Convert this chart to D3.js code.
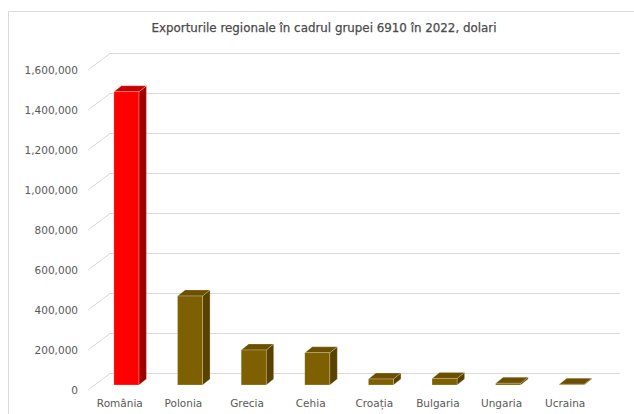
<!DOCTYPE html>
<html>
<head>
<meta charset="utf-8">
<script src="https://cdn.jsdelivr.net/npm/d3@7"></script>
<style>
  html, body { margin: 0; padding: 0; background: #fff; }
  svg { display: block; }
  text { font-family: "DejaVu Sans", Verdana, sans-serif; fill: #595959; }
</style>
</head>
<body>
<svg id="chart" width="634" height="414"></svg>
<script>
// ---- data ----
const title = "Exporturile regionale în cadrul grupei 6910 în 2022, dolari";
const categories = ["România", "Polonia", "Grecia", "Cehia", "Croația", "Bulgaria", "Ungaria", "Ucraina"];
const values = [1466000, 445000, 175000, 161000, 30000, 33000, 9000, 4000];
const highlight = [true, false, false, false, false, false, false, false];
const tickValues = [0, 200000, 400000, 600000, 800000, 1000000, 1200000, 1400000, 1600000];

// ---- layout ----
const svg = d3.select("#chart");
const frontLeft = 88, frontRight = 597;
const frontBottom = 390, frontTop = 70;
const depth = {dx: 22, dy: -16.5};
const backRight = 620;

const x = d3.scaleBand().domain(categories).range([frontLeft, frontRight]).paddingInner(0).paddingOuter(0);
const y = d3.scaleLinear().domain([0, 1600000]).range([frontBottom, frontTop]);

// chart border
svg.append("rect").attr("x", 8.5).attr("y", 11.5).attr("width", 640).attr("height", 420)
  .attr("fill", "none").attr("stroke", "#d9d9d9").attr("stroke-width", 1);

// title (fit to the reference width)
const t = svg.append("text").attr("x", 324).attr("y", 32).attr("text-anchor", "middle")
  .style("font-size", "12px").style("font-weight", "normal").style("fill", "#4a4a4a")
  .text(title);
let fs = 12;
const targetW = 345;
const len = t.node().getComputedTextLength();
if (len > 0) { fs = 12 * targetW / len; t.style("font-size", fs + "px"); }
t.style("stroke", "#4a4a4a").style("stroke-width", 0.25);

// gridlines (side wall diagonal + back wall horizontal)
const grid = svg.append("g").attr("fill", "none").attr("stroke", "#d9d9d9").attr("stroke-width", 1);
tickValues.forEach(v => {
  const yy = y(v);
  grid.append("path").attr("d",
    `M${frontLeft},${yy} L${frontLeft + depth.dx},${yy + depth.dy} L${backRight},${yy + depth.dy}`);
});

// y axis labels
svg.append("g").selectAll("text").data(tickValues).join("text")
  .attr("x", 78).attr("y", d => y(d)).attr("dy", "0.35em")
  .attr("text-anchor", "end").style("font-size", "10.5px")
  .text(d => d3.format(",")(d));

// bars (oblique 3D)
const barW = 25;
const fShift = {dx: 6.6, dy: -5};   // front face offset inside depth
const bDepth = {dx: 7.5, dy: -6};   // bar depth
const bars = svg.append("g");
categories.forEach((c, i) => {
  const v = values[i];
  const cx = x(c) + x.bandwidth() / 2;
  const x0 = cx - barW / 2 + fShift.dx, x1 = x0 + barW;
  const yb = y(0) + fShift.dy, yt = y(v) + fShift.dy;
  const cols = highlight[i]
    ? {front: "#ff0000", side: "#a00000", top: "#c80000"}
    : {front: "#7f6000", side: "#574200", top: "#6a5000"};
  const g = bars.append("g").attr("stroke", "rgba(255,240,220,0.5)").attr("stroke-width", 0.5);
  g.append("path").attr("fill", cols.side).attr("d",
    `M${x1},${yb} L${x1 + bDepth.dx},${yb + bDepth.dy} L${x1 + bDepth.dx},${yt + bDepth.dy} L${x1},${yt} Z`);
  g.append("path").attr("fill", cols.top).attr("d",
    `M${x0},${yt} L${x0 + bDepth.dx},${yt + bDepth.dy} L${x1 + bDepth.dx},${yt + bDepth.dy} L${x1},${yt} Z`);
  g.append("rect").attr("fill", cols.front).attr("x", x0).attr("y", yt)
    .attr("width", barW).attr("height", Math.max(0, yb - yt));
});

// category labels
svg.append("g").selectAll("text").data(categories).join("text")
  .attr("x", d => x(d) + x.bandwidth() / 2).attr("y", 403).attr("dy", "0.35em")
  .attr("text-anchor", "middle").style("font-size", "10.5px")
  .text(d => d);
</script>
</body>
</html>
